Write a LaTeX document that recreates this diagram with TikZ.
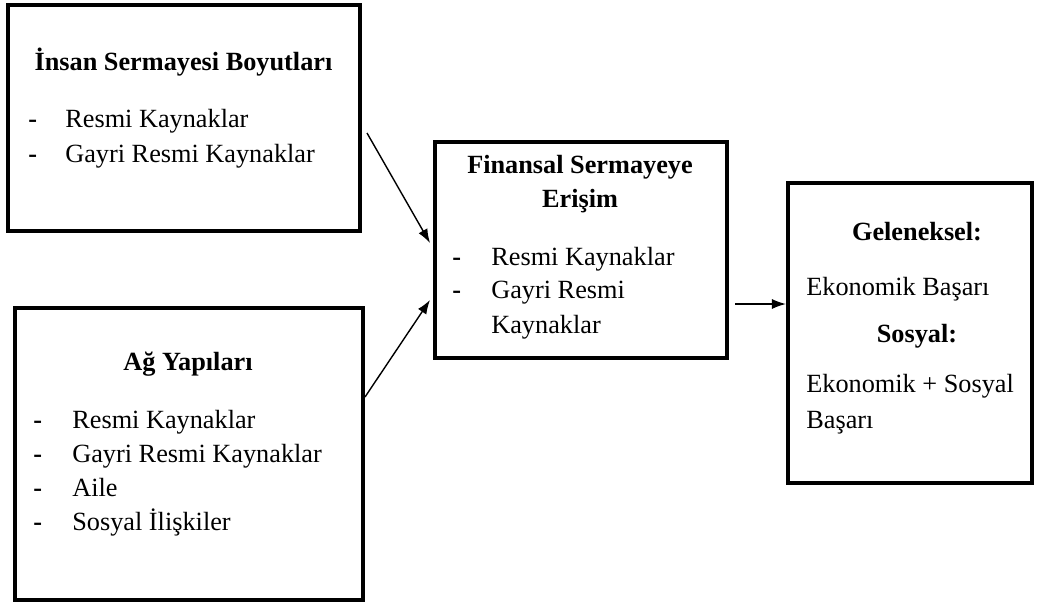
\documentclass[tikz,border=0pt]{standalone}
\usepackage{fontspec}
\setmainfont{Liberation Serif}
\usetikzlibrary{arrows.meta}

\begin{document}
\begin{tikzpicture}[
        box/.style={draw, line width=2.3pt, rectangle, inner sep=0pt},
        lbl/.style={anchor=base west, inner sep=0pt, font=\fontsize{14.95}{18}\selectfont},
        dsh/.style={lbl, font=\fontsize{14.95}{18}\selectfont\bfseries},
        ttl/.style={anchor=base, inner sep=0pt, font=\fontsize{14.95}{18}\selectfont\bfseries},
        arr/.style={-{Latex[length=0.28cm,width=0.2cm]}, line width=0.8pt}
    ]
        \useasboundingbox (0,0) rectangle (20.82,-12.06);

        % boxes
        \node[box, minimum width=7.04cm, minimum height=4.52cm] (ins) at (3.68,-2.36) {};
        \node[box, minimum width=6.96cm, minimum height=5.84cm] (ag)  at (3.78,-9.08) {};
        \node[box, minimum width=5.84cm, minimum height=4.32cm] (fin) at (11.62,-5.0) {};
        \node[box, minimum width=4.88cm, minimum height=6.0cm]  (res) at (18.2,-6.66) {};

        % Add text labels
        \node[ttl] (insT) at (3.67,-1.40) {İnsan Sermayesi Boyutları};
        \node[dsh] (insD1) at (0.56,-2.54) {-};
        \node[lbl] (insL1) at (1.30,-2.54) {Resmi Kaynaklar};
        \node[dsh] (insD2) at (0.56,-3.24) {-};
        \node[lbl] (insL2) at (1.30,-3.24) {Gayri Resmi Kaynaklar};

        \node[ttl] (agT) at (3.76,-7.40) {Ağ Yapıları};
        \node[dsh] (agD1) at (0.66,-8.56) {-};
        \node[lbl] (agL1) at (1.44,-8.56) {Resmi Kaynaklar};
        \node[dsh] (agD2) at (0.66,-9.24) {-};
        \node[lbl] (agL2) at (1.44,-9.24) {Gayri Resmi Kaynaklar};
        \node[dsh] (agD3) at (0.66,-9.92) {-};
        \node[lbl] (agL3) at (1.44,-9.92) {Aile};
        \node[dsh] (agD4) at (0.66,-10.60) {-};
        \node[lbl] (agL4) at (1.44,-10.60) {Sosyal İlişkiler};

        \node[ttl] (finT1) at (11.60,-3.46) {Finansal Sermayeye};
        \node[ttl] (finT2) at (11.60,-4.14) {Erişim};
        \node[dsh] (finD1) at (9.04,-5.30) {-};
        \node[lbl] (finL1) at (9.82,-5.30) {Resmi Kaynaklar};
        \node[dsh] (finD2) at (9.04,-5.96) {-};
        \node[lbl] (finL2) at (9.82,-5.96) {Gayri Resmi};
        \node[lbl] (finL3) at (9.82,-6.66) {Kaynaklar};

        \node[ttl] (resT1) at (18.34,-4.80) {Geleneksel:};
        \node[lbl] (resL1) at (16.12,-5.90) {Ekonomik Başarı};
        \node[ttl] (resT2) at (18.34,-6.84) {Sosyal:};
        \node[lbl] (resL2) at (16.12,-7.84) {Ekonomik + Sosyal};
        \node[lbl] (resL3) at (16.12,-8.56) {Başarı};

        % draw arrows
        \coordinate (insOut) at (7.34,-2.66);
        \coordinate (finIn1) at (8.60,-4.86);
        \coordinate (agOut)  at (7.30,-7.94);
        \coordinate (finIn2) at (8.60,-6.00);
        \coordinate (finOut) at (14.70,-6.08);
        \coordinate (resIn)  at (res.west |- finOut);

        \draw[arr] (insOut) -- (finIn1);
        \draw[arr] (agOut) -- (finIn2);
        \draw[arr] (finOut) -- (resIn);
    \end{tikzpicture}
\end{document}
